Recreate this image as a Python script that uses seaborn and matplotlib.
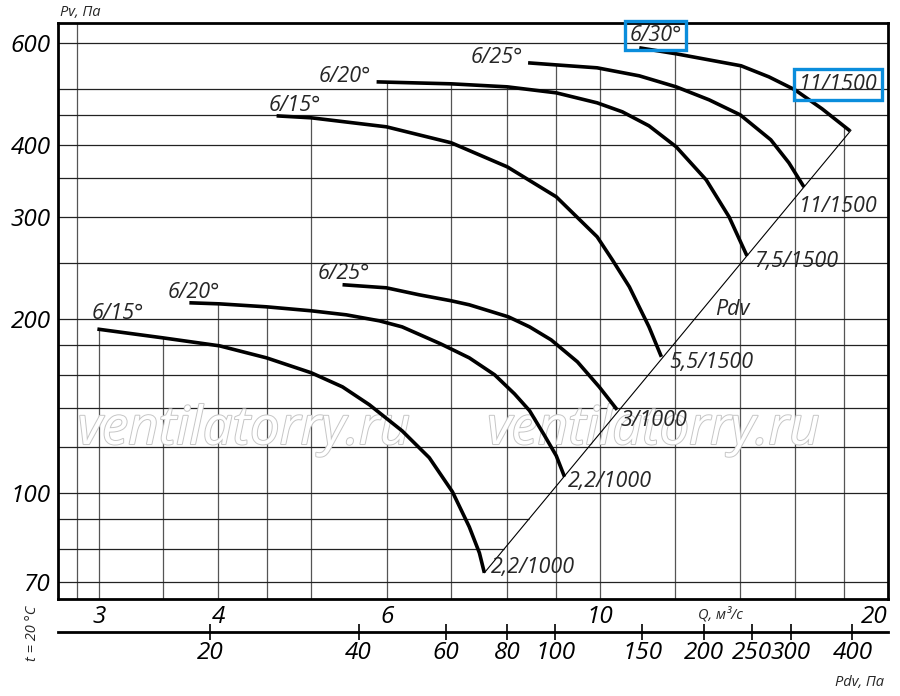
import numpy as np
import pandas as pd
import matplotlib
matplotlib.use('Agg')
import matplotlib.pyplot as plt
import matplotlib.patheffects as pe
from matplotlib.ticker import NullLocator, NullFormatter
import seaborn as sns

# fan curves, Q in m3/s and Pv in Pa
# lower group (1000 rpm)
q_15_lo = [2.99, 3.50, 4.01, 4.49, 5.00, 5.39, 5.75, 6.22, 6.64, 7.02, 7.31, 7.49, 7.58]
p_15_lo = [192, 185.4, 179.6, 171.2, 161.3, 152.5, 142, 128, 115, 100.4, 87.3, 78.7, 72.7]
q_20_lo = [3.73, 4.01, 4.49, 5.00, 5.44, 5.89, 6.22, 6.82, 7.31, 7.77, 8.15, 8.45, 8.75, 9.01, 9.19]
p_20_lo = [213.2, 212.3, 209.8, 206.5, 203.2, 198.4, 193.7, 181.1, 171.2, 160, 148.3, 138.7, 126, 115.9, 106.6]
q_25_lo = [5.39, 5.99, 6.48, 7.00, 7.31, 8.03, 8.45, 8.90, 9.48, 9.99, 10.43]
p_25_lo = [229.1, 226.3, 220.1, 214.9, 211.5, 201.6, 193.7, 183.9, 168.5, 152.5, 139.2]
# upper group (1500 rpm)
q_15_hi = [4.60, 5.00, 5.99, 7.00, 8.01, 9.01, 9.94, 10.31, 10.74, 11.26, 11.6]
p_15_hi = [449, 445.5, 429.8, 403.3, 366.4, 325.2, 277.3, 253, 227.2, 193.7, 171.9]
q_20_hi = [5.85, 7.00, 8.01, 9.01, 9.94, 10.56, 11.26, 12.02, 12.92, 13.65, 14.25]
p_20_hi = [514.1, 510.1, 504, 492.1, 472.9, 456.3, 431.5, 396.9, 347.9, 300.2, 257]
q_25_hi = [8.42, 8.99, 9.94, 11.0, 12.02, 13.01, 14.02, 15.09, 15.76, 16.34]
p_25_hi = [554.6, 550.2, 543.7, 526.6, 504, 478.6, 450.8, 408.1, 372.4, 338.3]
q_30_hi = [11.0, 12.02, 14.05, 15.02, 15.99, 17.07, 18.25]
p_30_hi = [588.8, 574.9, 548.1, 524.5, 498.1, 461.7, 423]

curve_q = [q_15_lo, q_20_lo, q_25_lo, q_15_hi, q_20_hi, q_25_hi, q_30_hi]
curve_p = [p_15_lo, p_20_lo, p_25_lo, p_15_hi, p_20_hi, p_25_hi, p_30_hi]
angle_labels = ['6/15°', '6/20°', '6/25°', '6/15°', '6/20°', '6/25°', '6/30°']
motor_labels = ['2,2/1000', '2,2/1000', '3/1000', '5,5/1500', '7,5/1500', '11/1500', '11/1500']

# Pdv line (ends of the line)
pdv_q = [7.58, 18.3]
pdv_p = [72.7, 424]

q_ticks = [3, 4, 6, 10, 20]
pv_ticks = [70, 100, 200, 300, 400, 600]
pdv_ticks = [20, 40, 60, 80, 100, 150, 200, 250, 300, 400]
q_grid = [2.85, 3, 3.5, 4, 4.5, 5, 6, 7, 8, 9, 10, 12, 14, 16, 18]
pv_grid = [70, 80, 90, 100, 120, 140, 160, 180, 200, 250, 300, 350, 400, 450, 500, 600]
pv_grid_short = [80, 90]  # these stop at the Pdv line

# label offsets in pixels (dx, dy), dy up
start_off = [(-6, 10), (-22, 5), (-25, 6), (-8, 5), (-58, 0), (-57, 0), (-10, 7)]
end_off = [(7, 0), (3, -10), (3, -16), (8, -11), (7, -11), (-5, -25), (-51, 41)]
boxed_start = [False, False, False, False, False, False, True]
boxed_end = [False, False, False, False, False, False, True]

# bottom Pdv scale: Pdv = coef * Q ** exp (as drawn on the chart)
pdv_coef, pdv_exp = 1.413, 1.94

sns.set_theme(style='white')
plt.rcParams['font.family'] = ['Open Sans', 'DejaVu Sans']
plt.rcParams['font.style'] = 'italic'

xlim = (2.72, 20.0)
ylim = (65.5, 650)

fig = plt.figure(figsize=(9, 6.96), dpi=100)
ax = fig.add_axes([58 / 900, 1 - 599 / 696, 830 / 900, 576 / 696])
ax.set_xscale('log')
ax.set_yscale('log')
ax.set_xlim(xlim)
ax.set_ylim(ylim)

rows = []
for i, (qs, ps) in enumerate(zip(curve_q, curve_p)):
    for q, p in zip(qs, ps):
        rows.append({'curve': i, 'Q': q, 'P': p})
df = pd.DataFrame(rows)
sns.lineplot(data=df, x='Q', y='P', units='curve', estimator=None, sort=False,
             color='black', lw=2.6, ax=ax, zorder=4, legend=False,
             solid_joinstyle='round', solid_capstyle='butt')
ax.plot(pdv_q, pdv_p, color='black', lw=0.8, zorder=4)


def top_at(q):
    vals = []
    for qs, ps in zip(curve_q, curve_p):
        if qs[0] <= q <= qs[-1]:
            vals.append(np.exp(np.interp(np.log(q), np.log(qs), np.log(ps))))
    return max(vals) if vals else ylim[1]


# grid
for q in q_grid:
    ax.vlines(q, ylim[0], top_at(q), color='#555555', lw=0.9, zorder=1)
for p in pv_grid:
    if p in pv_grid_short:
        qe = np.exp(np.interp(np.log(p), np.log(pdv_p), np.log(pdv_q)))
        ax.hlines(p, xlim[0], qe, color='#222222', lw=0.9, zorder=1)
    else:
        ax.hlines(p, xlim[0], xlim[1], color='#222222', lw=0.9, zorder=1)

blue = '#0a8ddc'
for i in range(len(curve_q)):
    dx, dy = start_off[i]
    bb = dict(boxstyle='square,pad=0.2', fc='none', ec=blue, lw=2.4) if boxed_start[i] else None
    ax.annotate(angle_labels[i], xy=(curve_q[i][0], curve_p[i][0]),
                xytext=(dx * 0.72, dy * 0.72), textcoords='offset points',
                ha='left', va='baseline', fontsize=15.5, bbox=bb, zorder=5)
    dx, dy = end_off[i]
    bb = dict(boxstyle='square,pad=0.22', fc='none', ec=blue, lw=2.4) if boxed_end[i] else None
    ax.annotate(motor_labels[i], xy=(curve_q[i][-1], curve_p[i][-1]),
                xytext=(dx * 0.72, dy * 0.72), textcoords='offset points',
                ha='left', va='baseline', fontsize=15.5, bbox=bb, zorder=5)

ax.text(13.2, 203, 'Pdv', ha='left', va='baseline', fontsize=15.5, zorder=5)

# watermark
for xw in (0.271, 0.726):
    ax.text(xw, 0.362, 'ventilatorry.ru', transform=fig.transFigure, ha='center',
            va='baseline', fontsize=38, color='white', zorder=2,
            path_effects=[pe.withStroke(linewidth=1.4, foreground='#c6c6c6')])

# axes and ticks
ax.set_xticks(q_ticks, labels=[str(t) for t in q_ticks])
ax.set_yticks(pv_ticks, labels=[str(t) for t in pv_ticks])
for axis in (ax.xaxis, ax.yaxis):
    axis.set_minor_locator(NullLocator())
    axis.set_minor_formatter(NullFormatter())
ax.tick_params(axis='both', length=0, labelsize=17.5, colors='black')
ax.tick_params(axis='x', pad=4)
ax.tick_params(axis='y', pad=5)
ax.get_xticklabels()[-1].set_ha('right')
ax.set_xlabel('')
ax.set_ylabel('')
for s in ax.spines.values():
    s.set_visible(True)
    s.set_color('black')
    s.set_linewidth(2)

sec = ax.secondary_xaxis(-33 / 576, functions=(
    lambda q: pdv_coef * np.abs(np.asarray(q)) ** pdv_exp,
    lambda p: (np.abs(np.asarray(p)) / pdv_coef) ** (1 / pdv_exp)))
sec.set_xticks(pdv_ticks, labels=[str(t) for t in pdv_ticks])
sec.xaxis.set_minor_locator(NullLocator())
sec.xaxis.set_minor_formatter(NullFormatter())
sec.tick_params(direction='inout', length=11, width=1.2, labelsize=17.5, pad=1, colors='black')
sec.spines['bottom'].set_linewidth(2)
sec.spines['bottom'].set_color('black')

fig.text(60 / 900, 1 - 13 / 696, 'Pv, Па', ha='left', va='center', fontsize=10.5)
fig.text(698 / 900, 1 - 615 / 696, 'Q, м³/с', ha='left', va='center', fontsize=10.5)
fig.text(884 / 900, 1 - 683 / 696, 'Pdv, Па', ha='right', va='center', fontsize=10.5)
fig.text(32 / 900, 1 - 633 / 696, 't = 20 °C', ha='center', va='center', rotation=90, fontsize=10.5)

fig.savefig('out.png', dpi=100)
